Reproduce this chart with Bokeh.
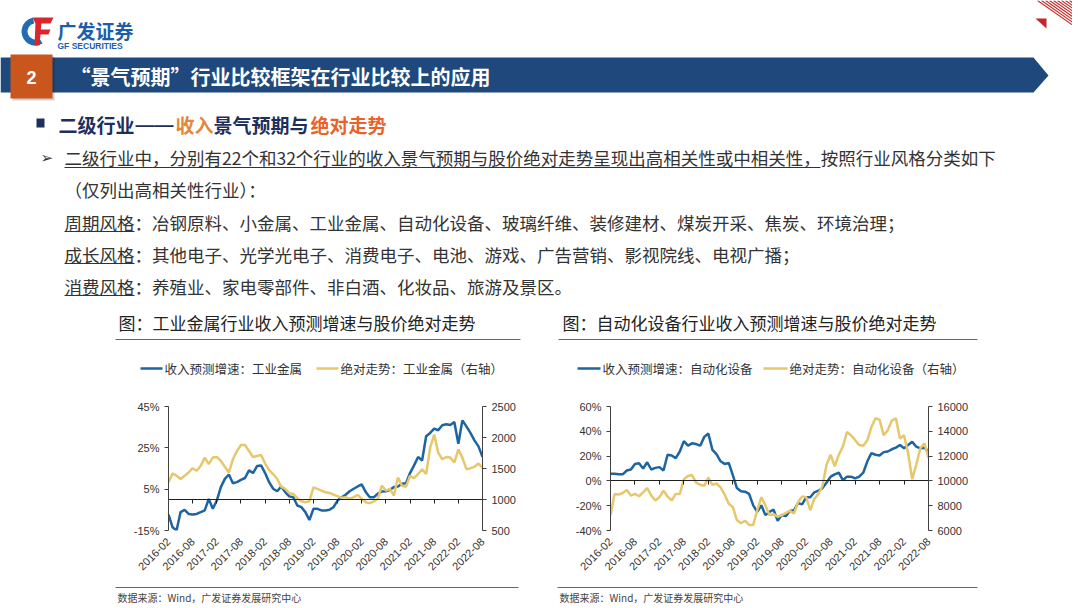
import math
from bokeh.plotting import figure
from bokeh.models import Range1d, LinearAxis, FixedTicker, PrintfTickFormatter
from bokeh.layouts import column, row
from bokeh.embed import file_html
from bokeh.resources import INLINE
from bokeh.core.properties import value

# ---------------- data ----------------
tick_labels = ["2016-02", "2016-08", "2017-02", "2017-08", "2018-02", "2018-08",
               "2019-02", "2019-08", "2020-02", "2020-08", "2021-02", "2021-08",
               "2022-02", "2022-08"]
tick_pos = [0, 6, 12, 18, 24, 30, 36, 42, 48, 54, 60, 66, 72, 78]   # months since 2016-02
months = list(range(79))

# 工业金属: 收入预测增速 (%)
gm_rev = [-7.3, -13.4, -15.0, -6.1, -5.0, -7.0, -7.3, -7.0, -6.1, -5.3,
          0.3, -4.5, -0.5, 6.0, 10.0, 12.1, 7.9, 8.4, 9.5, 10.4,
          14.1, 12.8, 16.2, 16.5, 12.8, 8.4, 5.2, 4.0, 6.3, 3.6,
          1.5, 1.1, -2.9, -3.7, -6.1, -9.9, -4.5, -4.5, -5.3, -5.3,
          -5.0, -3.7, -0.5, 1.1, 2.3, 4.0, 5.2, 6.3, 7.3, 3.6,
          1.1, 1.1, 2.8, 3.9, 4.0, 4.7, 6.0, 6.3, 7.6, 7.9,
          12.8, 16.5, 20.6, 18.9, 30.6, 32.2, 34.3, 33.5, 35.9, 36.4,
          36.1, 37.5, 27.0, 38.3, 35.4, 32.2, 28.6, 25.7, 20.6]
# 工业金属: 绝对走势 (右轴)
gm_price = [1277, 1420, 1383, 1330, 1383, 1436, 1505, 1463, 1543, 1676,
            1569, 1676, 1686, 1622, 1527, 1436, 1649, 1782, 1878, 1878,
            1782, 1686, 1702, 1718, 1580, 1473, 1410, 1330, 1207, 1170,
            1101, 1090, 1021, 973, 957, 973, 1197, 1170, 1144, 1117,
            1106, 1080, 1053, 1027, 1037, 1011, 1037, 1074, 1011, 957,
            941, 968, 1011, 1223, 1144, 1170, 1064, 1356, 1223, 1207,
            1383, 1346, 1410, 1489, 1410, 1835, 2048, 1755, 1649, 1686,
            1676, 1596, 1809, 1676, 1489, 1505, 1527, 1580, 1516]
# 自动化设备: 收入预测增速 (%)
auto_rev = [5.8, 5.8, 5.3, 5.3, 8.4, 9.2, 13.7, 14.2, 10.0, 15.0,
            9.2, 10.5, 11.1, 8.4, 21.1, 20.5, 18.4, 23.7, 32.1, 28.4,
            30.3, 29.7, 28.4, 35.5, 38.2, 25.0, 21.6, 15.8, 13.7, 14.5,
            4.7, -5.8, -8.4, -8.7, -10.5, -19.7, -25.0, -19.7, -27.6, -25.0,
            -23.2, -32.1, -27.6, -28.4, -24.2, -23.7, -17.9, -18.9, -13.2, -13.2,
            -9.2, -7.9, -5.8, -1.3, 3.4, 5.3, 6.6, 0.5, 3.4, 3.4,
            2.1, 3.4, 6.6, 15.8, 22.4, 21.1, 20.5, 23.2, 23.7, 25.5,
            26.8, 28.9, 26.3, 28.9, 31.6, 27.6, 26.3, 26.8, 23.7]
# 自动化设备: 绝对走势 (右轴)
auto_price = [7238, 8948, 8895, 9027, 9264, 8817, 8948, 8764, 9080, 9421,
              8817, 8422, 8685, 9211, 8738, 8422, 8948, 8948, 10132, 10395,
              10473, 9868, 9684, 9606, 10263, 9684, 9790, 9474, 8895, 8159,
              7896, 6844, 6581, 6791, 6450, 6450, 7633, 8685, 8027, 7238,
              7317, 7107, 7238, 7423, 7580, 7370, 8290, 8738, 8685, 7633,
              8553, 8948, 9606, 11315, 12104, 11184, 12104, 12762, 13945, 13682,
              13288, 12893, 12840, 13288, 14340, 15050, 14944, 13682, 14077, 14866,
              15050, 13419, 13682, 12236, 10132, 11315, 12630, 13025, 11841]

gm_y_ticks = [-15, 5, 25, 45]
gm_p_ticks = [500, 1000, 1500, 2000, 2500]
auto_y_ticks = [-40, -20, 0, 20, 40, 60]
auto_p_ticks = [6000, 8000, 10000, 12000, 14000, 16000]

gm_labels = ["收入预测增速：工业金属", "绝对走势：工业金属（右轴）"]
auto_labels = ["收入预测增速：自动化设备", "绝对走势：自动化设备（右轴）"]

BLUE = "#1d64a0"
GOLD = "#e6c76b"
CJK = "Noto Sans CJK SC"
LAT = "Liberation Sans"
TXT = "#333333"
W = 1072

# ---------------- header ----------------
hdr = figure(width=W, height=392, x_range=Range1d(0, W), y_range=Range1d(392, 0),
             output_backend="svg", toolbar_location=None, min_border=0,
             x_axis_location=None, y_axis_location=None)
hdr.outline_line_color = None
hdr.grid.visible = False

# logo
hdr.annular_wedge(x=[35], y=[31], inner_radius=8, outer_radius=14,
                  start_angle=math.radians(100), end_angle=math.radians(300),
                  fill_color="#1f6db3", line_color=None)
hdr.patches(xs=[[32, 53, 50, 35], [35, 41, 39, 34], [39, 50, 48, 38]],
            ys=[[17, 17, 23, 23], [22, 22, 45, 45], [29, 29, 34, 34]],
            fill_color="#d8282e", line_color=None)
hdr.text(x=[57], y=[30], text=["广发证券"], text_font=value(CJK), text_font_style="bold",
         text_font_size=value("19px"), text_color="#1b5eab", text_baseline="middle")
hdr.text(x=[57], y=[45], text=["GF SECURITIES"], text_font=value(LAT), text_font_style="bold",
         text_font_size=value("8.5px"), text_color="#1b5eab", text_baseline="middle")

# top-right decoration
n_h = 9
hdr.segment(x0=[1037 + 4 * i for i in range(n_h)], y0=[0] * n_h,
            x1=[W] * n_h, y1=[(W - 1037 - 4 * i) * 0.7 for i in range(n_h)],
            line_color="#c62828", line_width=1.1)
hdr.patch(x=[1035, 1046, 1046], y=[18, 18, 28], fill_color="#c0272d", line_color=None)

# banner
hdr.patch(x=[0, 1033, 1048, 1033, 0], y=[57, 57, 75, 92, 92], fill_color="#1f497d", line_color=None)
hdr.quad(left=[12], right=[54], top=[56], bottom=[100], fill_color="#000000", fill_alpha=0.18, line_color=None)
hdr.quad(left=[10], right=[52], top=[54], bottom=[98], fill_color="#c9561c", line_color=None)
hdr.text(x=[31], y=[77], text=["2"], text_font=value(LAT), text_font_style="bold",
         text_font_size=value("18px"), text_color="white", text_align="center", text_baseline="middle")
hdr.text(x=[70], y=[76], text=["“景气预期”行业比较框架在行业比较上的应用"], text_font=value(CJK),
         text_font_style="bold", text_font_size=value("20px"), text_color="white", text_baseline="middle")

# section heading
NAVY = "#1f2f5c"
hdr.quad(left=[36], right=[44], top=[118], bottom=[127], fill_color=NAVY, line_color=None)
hdr.text(x=[58, 175, 213, 310], y=[124] * 4,
         text=["二级行业", "收入", "景气预期与", "绝对走势"],
         text_color=[NAVY, "#e3863a", NAVY, "#e8622c"],
         text_font=value(CJK), text_font_style="bold", text_font_size=value("19px"),
         text_baseline="middle")
hdr.text(x=[135], y=[124], text=["——"], text_color=NAVY, text_font=value(LAT),
         text_font_style="bold", text_font_size=value("19px"), text_baseline="middle")

# body text
EM = 17.5
hdr.text(x=[40], y=[157], text=["➢"], text_font=value("DejaVu Sans"), text_font_size=value("15px"),
         text_color=TXT, text_baseline="middle")
body_lines = [
    "二级行业中，分别有22个和32个行业的收入景气预期与股价绝对走势呈现出高相关性或中相关性，按照行业风格分类如下",
    "（仅列出高相关性行业）：",
    "周期风格：冶钢原料、小金属、工业金属、自动化设备、玻璃纤维、装修建材、煤炭开采、焦炭、环境治理；",
    "成长风格：其他电子、光学光电子、消费电子、电池、游戏、广告营销、影视院线、电视广播；",
    "消费风格：养殖业、家电零部件、非白酒、化妆品、旅游及景区。",
]
body_y = [157, 189, 222, 254, 286]
hdr.text(x=[64] * 5, y=body_y, text=body_lines, text_font=value(CJK),
         text_font_size=value("17.5px"), text_color=TXT, text_baseline="middle")


def text_w(s):
    return sum(EM * (0.55 if ord(c) < 128 else 1.0) for c in s)


ul1 = "二级行业中，分别有22个和32个行业的收入景气预期与股价绝对走势呈现出高相关性或中相关性，"
hdr.segment(x0=[64, 64, 64, 64], y0=[167, 231, 263, 295],
            x1=[64 + text_w(ul1), 64 + text_w("周期风格"), 64 + text_w("成长风格"), 64 + text_w("消费风格")],
            y1=[167, 231, 263, 295], line_color=TXT, line_width=1)

# chart titles and rules
hdr.text(x=[118, 562], y=[322, 322],
         text=["图：工业金属行业收入预测增速与股价绝对走势", "图：自动化设备行业收入预测增速与股价绝对走势"],
         text_font=value(CJK), text_font_size=value("17px"), text_color="#222222", text_baseline="middle")
hdr.segment(x0=[115, 558], y0=[339, 339], x1=[520, 977], y1=[339, 339], line_color="#666666", line_width=1)

# legends of the two charts (line swatch + label)
hdr.segment(x0=[140, 316, 577, 763], y0=[368] * 4, x1=[162, 338, 600, 787], y1=[368] * 4,
            line_color=[BLUE, GOLD, BLUE, GOLD], line_width=2.5)
hdr.text(x=[164, 340, 602, 789], y=[368] * 4,
         text=[gm_labels[0], gm_labels[1], auto_labels[0], auto_labels[1]],
         text_font=value(CJK), text_font_size=value("12.5px"), text_color=TXT, text_baseline="middle")


# ---------------- charts ----------------
def make_chart(rev, price, y_rng, y_ticks, p_rng, p_ticks, width, left_b, right_b):
    p = figure(width=width, height=191, output_backend="svg", toolbar_location=None,
               x_range=Range1d(0, 78), y_range=Range1d(*y_rng),
               min_border_left=left_b, min_border_right=right_b,
               min_border_top=14, min_border_bottom=53)
    p.outline_line_color = None
    p.grid.visible = False
    p.extra_y_ranges = {"price": Range1d(*p_rng)}

    xa = p.xaxis[0]
    xa.ticker = FixedTicker(ticks=tick_pos)
    xa.major_label_overrides = {t: l for t, l in zip(tick_pos, tick_labels)}
    xa.major_label_orientation = math.pi / 4
    xa.axis_line_color = None
    xa.major_tick_line_color = None
    xa.minor_tick_line_color = None
    xa.major_label_standoff = 3
    xa.major_label_text_font = LAT
    xa.major_label_text_font_size = "11px"
    xa.major_label_text_color = TXT

    zero_ax = LinearAxis(ticker=FixedTicker(ticks=tick_pos), fixed_location=0,
                         major_label_text_font_size="0px", major_label_text_alpha=0,
                         axis_line_color="#202020", major_tick_line_color="#202020",
                         major_tick_out=4, major_tick_in=0, minor_tick_line_color=None)
    p.add_layout(zero_ax, "below")

    ya = p.yaxis[0]
    ya.ticker = FixedTicker(ticks=y_ticks)
    ya.formatter = PrintfTickFormatter(format="%d%%")
    ya.axis_line_color = "#404040"
    ya.major_tick_line_color = "#404040"
    ya.major_tick_out = 4
    ya.major_tick_in = 0
    ya.minor_tick_line_color = None
    ya.major_label_text_font = LAT
    ya.major_label_text_font_size = "11px"
    ya.major_label_text_color = TXT
    ya.major_label_standoff = 5

    ra = LinearAxis(y_range_name="price", ticker=FixedTicker(ticks=p_ticks),
                    axis_line_color="#404040", major_tick_line_color="#404040",
                    major_tick_out=4, major_tick_in=0, minor_tick_line_color=None,
                    major_label_text_font=LAT, major_label_text_font_size="11px",
                    major_label_text_color=TXT, major_label_standoff=5)
    p.add_layout(ra, "right")

    p.line(months, rev, line_color=BLUE, line_width=2.5)
    p.line(months, price, y_range_name="price", line_color=GOLD, line_width=2.5)
    return p


c1 = make_chart(gm_rev, gm_price, (-15, 45), gm_y_ticks, (500, 2500), gm_p_ticks, 540, 168, 58)
c2 = make_chart(auto_rev, auto_price, (-40, 60), auto_y_ticks, (6000, 16000), auto_p_ticks, 532, 70, 144)

# ---------------- footer ----------------
ftr = figure(width=W, height=21, x_range=Range1d(0, W), y_range=Range1d(604, 583),
             output_backend="svg", toolbar_location=None, min_border=0,
             x_axis_location=None, y_axis_location=None)
ftr.outline_line_color = None
ftr.grid.visible = False
ftr.segment(x0=[115, 557], y0=[587, 587], x1=[518, 977], y1=[587, 587], line_color="#666666", line_width=1)
ftr.text(x=[117, 559], y=[597, 597], text=["数据来源：Wind，广发证券发展研究中心"] * 2,
         text_font=value(CJK), text_font_size=value("10px"), text_color="#444444", text_baseline="middle")

layout = column(hdr, row(c1, c2), ftr)
open("out.html", "w").write(file_html(layout, INLINE))
